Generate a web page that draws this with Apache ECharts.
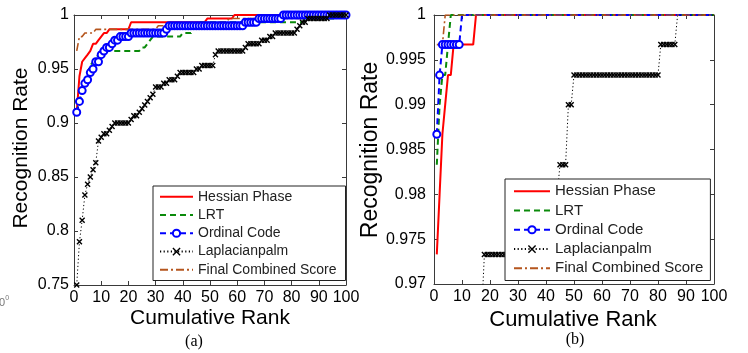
<!DOCTYPE html>
<html><head><meta charset="utf-8">
<script src="https://cdn.jsdelivr.net/npm/echarts@6/dist/echarts.min.js"></script>
<style>html,body{margin:0;padding:0;background:#fff;}#c{width:748px;height:353px;}</style>
</head><body><div id="c"></div>
<script>
// ---------- data ----------
const seriesNames = ['Hessian Phase', 'LRT', 'Ordinal Code', 'Laplacianpalm', 'Final Combined Score'];
const ranks = Array.from({length: 100}, (_, i) => i + 1);
const xTicks = {min: 0, max: 100, interval: 10};
const yTicksA = {min: 0.75, max: 1, interval: 0.05};
const yTicksB = {min: 0.97, max: 1, interval: 0.005};
const axisTitleX = 'Cumulative Rank';
const axisTitleY = 'Recognition Rate';
const captions = ['(a)', '(b)'];

// panel (a)
const hessianA = [
0.9100,0.9433,0.9567,0.9600,0.9633,0.9667,0.9733,0.9733,0.9767,0.9800,
0.9833,0.9833,0.9867,0.9867,0.9867,0.9867,0.9867,0.9867,0.9867,0.9867,
0.9933,0.9933,0.9933,0.9933,0.9933,0.9933,0.9933,0.9933,0.9933,0.9933,
0.9933,0.9933,0.9933,0.9933,0.9933,0.9933,0.9933,0.9933,0.9933,0.9933,
0.9933,0.9933,0.9933,0.9933,0.9933,0.9933,0.9933,0.9933,0.9967,0.9967,
0.9967,0.9967,0.9967,0.9967,0.9967,0.9967,0.9967,0.9967,1,1,
1,1,1,1,1,1,1,1,1,1,
1,1,1,1,1,1,1,1,1,1,
1,1,1,1,1,1,1,1,1,1,
1,1,1,1,1,1,1,1,1,1];
const lrtA = [
0.9100,0.9200,0.9333,0.9400,0.9467,0.9533,0.9567,0.9600,0.9633,0.9667,
0.9667,0.9667,0.9667,0.9667,0.9667,0.9667,0.9667,0.9667,0.9667,0.9667,
0.9667,0.9667,0.9667,0.9667,0.9700,0.9700,0.9733,0.9767,0.9800,0.9800,
0.9800,0.9800,0.9800,0.9800,0.9800,0.9800,0.9800,0.9800,0.9800,0.9833,
0.9833,0.9833,0.9833,0.9867,0.9900,0.9933,0.9933,0.9933,0.9933,0.9933,
0.9933,0.9933,0.9933,0.9933,0.9933,0.9933,0.9933,0.9933,0.9933,0.9933,
0.9933,0.9933,0.9933,0.9933,0.9933,0.9933,0.9933,0.9933,0.9933,0.9933,
0.9933,0.9933,0.9933,0.9933,0.9933,0.9933,0.9933,0.9933,0.9933,0.9933,
0.9933,0.9933,0.9933,0.9933,0.9967,0.9967,0.9967,0.9967,0.9967,0.9967,
0.9967,0.9967,0.9967,0.9967,0.9967,0.9967,1,1,1,1];
const ordinalA = [
0.9100,0.9200,0.9300,0.9367,0.9400,0.9467,0.9500,0.9567,0.9567,0.9633,
0.9667,0.9700,0.9700,0.9733,0.9767,0.9767,0.9800,0.9800,0.9800,0.9800,
0.9833,0.9833,0.9833,0.9833,0.9833,0.9833,0.9833,0.9833,0.9833,0.9833,
0.9833,0.9833,0.9833,0.9867,0.9900,0.9900,0.9900,0.9900,0.9900,0.9900,
0.9900,0.9900,0.9900,0.9900,0.9900,0.9900,0.9900,0.9900,0.9900,0.9900,
0.9900,0.9900,0.9900,0.9900,0.9900,0.9900,0.9900,0.9900,0.9900,0.9900,
0.9900,0.9900,0.9933,0.9933,0.9933,0.9933,0.9933,0.9967,0.9967,0.9967,
0.9967,0.9967,0.9967,0.9967,0.9967,0.9967,1,1,1,1,
1,1,1,1,1,1,1,1,1,1,
1,1,1,1,1,1,1,1,1,1];
const lapA = [
0.7500,0.7900,0.8100,0.8333,0.8433,0.8500,0.8567,0.8633,0.8833,0.8867,
0.8900,0.8900,0.8933,0.8967,0.9000,0.9000,0.9000,0.9000,0.9000,0.9000,
0.9033,0.9067,0.9067,0.9100,0.9133,0.9167,0.9200,0.9233,0.9267,0.9333,
0.9333,0.9333,0.9367,0.9367,0.9400,0.9400,0.9400,0.9433,0.9467,0.9467,
0.9467,0.9467,0.9467,0.9467,0.9500,0.9500,0.9533,0.9533,0.9533,0.9533,
0.9533,0.9633,0.9667,0.9667,0.9667,0.9667,0.9667,0.9667,0.9667,0.9667,
0.9667,0.9667,0.9700,0.9733,0.9733,0.9733,0.9733,0.9733,0.9767,0.9767,
0.9767,0.9800,0.9800,0.9833,0.9833,0.9833,0.9833,0.9833,0.9833,0.9833,
0.9833,0.9867,0.9900,0.9933,0.9933,0.9967,0.9967,0.9967,0.9967,0.9967,
0.9967,0.9967,0.9967,1,1,1,1,1,1,1];
const finalA = [
0.9667,0.9800,0.9800,0.9833,0.9833,0.9833,0.9833,0.9867,0.9867,0.9867,
0.9867,0.9867,0.9867,0.9867,0.9867,0.9867,0.9867,0.9867,0.9867,0.9867,
0.9867,0.9867,0.9867,0.9867,0.9867,0.9867,0.9867,0.9867,0.9867,0.9867,
0.9900,0.9900,0.9900,0.9900,0.9900,0.9900,0.9900,0.9900,0.9900,0.9900,
0.9900,0.9900,0.9900,0.9900,0.9900,0.9933,0.9933,0.9933,0.9933,0.9933,
0.9933,0.9933,0.9933,0.9933,0.9933,0.9933,0.9967,0.9967,0.9967,0.9967,
0.9967,0.9967,0.9967,0.9967,0.9967,0.9967,0.9967,0.9967,0.9967,0.9967,
0.9967,0.9967,0.9967,0.9967,0.9967,0.9967,0.9967,0.9967,0.9967,0.9967,
0.9967,0.9967,0.9967,0.9967,0.9967,1,1,1,1,1,
1,1,1,1,1,1,1,1,1,1];

// panel (b)
const hessianB = [
0.9733,0.9800,0.9867,0.9900,0.9933,0.9933,0.9967,0.9967,0.9967,0.9967,
0.9967,0.9967,0.9967,0.9967,1,1,1,1,1,1,
1,1,1,1,1,1,1,1,1,1, 1,1,1,1,1,1,1,1,1,1,
1,1,1,1,1,1,1,1,1,1, 1,1,1,1,1,1,1,1,1,1,
1,1,1,1,1,1,1,1,1,1, 1,1,1,1,1,1,1,1,1,1,
1,1,1,1,1,1,1,1,1,1, 1,1,1,1,1,1,1,1,1,1];
const lrtB = [
0.9833,0.9900,0.9933,0.9933,0.9967,1,1,1,1,1,
1,1,1,1,1,1,1,1,1,1, 1,1,1,1,1,1,1,1,1,1,
1,1,1,1,1,1,1,1,1,1, 1,1,1,1,1,1,1,1,1,1,
1,1,1,1,1,1,1,1,1,1, 1,1,1,1,1,1,1,1,1,1,
1,1,1,1,1,1,1,1,1,1, 1,1,1,1,1,1,1,1,1,1,
1,1,1,1,1,1,1,1,1,1];
const ordinalB = [
0.9867,0.9933,0.9967,0.9967,0.9967,0.9967,0.9967,0.9967,0.9967,1,
1,1,1,1,1,1,1,1,1,1, 1,1,1,1,1,1,1,1,1,1,
1,1,1,1,1,1,1,1,1,1, 1,1,1,1,1,1,1,1,1,1,
1,1,1,1,1,1,1,1,1,1, 1,1,1,1,1,1,1,1,1,1,
1,1,1,1,1,1,1,1,1,1, 1,1,1,1,1,1,1,1,1,1,
1,1,1,1,1,1,1,1,1,1];
const lapB = [
null,null,null,null,null,null,null,null,null,null,
null,null,null,null,null,null,0.9667,0.9733,0.9733,0.9733,
0.9733,0.9733,0.9733,0.9733,0.9733,0.9733,0.9733,0.9733,0.9733,0.9733,
0.9767,0.9767,0.9767,0.9767,0.9767,0.9767,0.9767,0.9767,0.9800,0.9800,
0.9800,0.9800,0.9800,0.9800,0.9833,0.9833,0.9833,0.9900,0.9900,0.9933,
0.9933,0.9933,0.9933,0.9933,0.9933,0.9933,0.9933,0.9933,0.9933,0.9933,
0.9933,0.9933,0.9933,0.9933,0.9933,0.9933,0.9933,0.9933,0.9933,0.9933,
0.9933,0.9933,0.9933,0.9933,0.9933,0.9933,0.9933,0.9933,0.9933,0.9933,
0.9967,0.9967,0.9967,0.9967,0.9967,0.9967,1,1,1,1,
1,1,1,1,1,1,1,1,1,1];
const finalB = [
0.9967,0.9967,0.9967,1,1,1,1,1,1,1,
1,1,1,1,1,1,1,1,1,1, 1,1,1,1,1,1,1,1,1,1,
1,1,1,1,1,1,1,1,1,1, 1,1,1,1,1,1,1,1,1,1,
1,1,1,1,1,1,1,1,1,1, 1,1,1,1,1,1,1,1,1,1,
1,1,1,1,1,1,1,1,1,1, 1,1,1,1,1,1,1,1,1,1,
1,1,1,1,1,1,1,1,1,1];

// ---------- styling ----------
const FONT = '"Liberation Sans", Arial, sans-serif';
const AXC = '#3a3a3a';
const XMARK = 'path://M0,0L10,10M10,0L0,10';
const styles = [
  {color: '#ff0000', lineStyle: {width: 2, type: 'solid'}, symbol: 'none'},
  {color: '#0a8a0a', lineStyle: {width: 2, type: [6, 4]}, symbol: 'none'},
  {color: '#0000ff', lineStyle: {width: 2, type: [6, 4]}, symbol: 'emptyCircle', symbolSize: 7, itemStyle: {borderWidth: 1.4}},
  {color: '#000000', lineStyle: {width: 1, type: [1.2, 2.4]}, symbol: XMARK, symbolSize: 5, itemStyle: {color: 'rgba(0,0,0,0)', borderColor: '#000', borderWidth: 1.4}},
  {color: '#b5561e', lineStyle: {width: 1.6, type: [8, 3, 2, 3]}, symbol: 'none'}
];
const dataA = [hessianA, lrtA, ordinalA, lapA, finalA];
const dataB = [hessianB, lrtB, ordinalB, lapB, finalB];

function makeSeries(arr, k, axisIdx, hideTop) {
  const st = styles[k];
  let sym = st.symbol;
  if (hideTop && sym !== 'none') {
    const base = sym;
    sym = function (val) { return (val && val[1] >= 1) ? 'none' : base; };
  }
  return {
    type: 'line', name: seriesNames[k], xAxisIndex: axisIdx, yAxisIndex: axisIdx,
    data: arr.map((v, i) => [ranks[i], v]),
    color: st.color, lineStyle: Object.assign({color: st.color}, st.lineStyle),
    symbol: sym, symbolSize: st.symbolSize || 4, showSymbol: st.symbol !== 'none',
    itemStyle: Object.assign({color: st.color, borderColor: st.color}, st.itemStyle || {}),
    animation: false, clip: true, connectNulls: false, emphasis: {disabled: true}, silent: true
  };
}
const series = [];
dataA.forEach((a, k) => series.push(makeSeries(a, k, 0, false)));
dataB.forEach((a, k) => series.push(makeSeries(a, k, 2, true)));

function xAx(grid, pos, show) {
  return {type: 'value', gridIndex: grid, position: pos, min: xTicks.min, max: xTicks.max, interval: xTicks.interval,
    axisLine: {show: true, onZero: false, lineStyle: {color: AXC, width: 1}},
    axisTick: {show: true, inside: true, length: 4, lineStyle: {color: AXC}},
    axisLabel: {show: show, color: '#000', fontFamily: FONT, fontSize: 16, margin: 5},
    splitLine: {show: false}};
}
function yAx(grid, pos, show, t, margin) {
  return {type: 'value', gridIndex: grid, position: pos, min: t.min, max: t.max, interval: t.interval,
    axisLine: {show: true, onZero: false, lineStyle: {color: AXC, width: 1}},
    axisTick: {show: true, inside: true, length: 4, lineStyle: {color: AXC}},
    axisLabel: {show: show, color: '#000', fontFamily: FONT, fontSize: 16, margin: margin,
      formatter: v => String(+v.toFixed(4))},
    splitLine: {show: false}};
}

function legendAt(left, top, pad, iw, fs, lh) {
  return {orient: 'vertical', left: left, top: top, padding: pad, itemGap: 0, itemWidth: iw, itemHeight: 9,
    backgroundColor: '#fff', borderColor: '#222', borderWidth: 1, borderRadius: 0, selectedMode: false,
    textStyle: {fontFamily: FONT, fontSize: fs, color: '#222', lineHeight: lh},
    data: seriesNames.map((n, k) => styles[k].symbol === 'none'
      ? {name: n, itemStyle: {opacity: 0}}
      : (k === 3 ? {name: n, itemStyle: {color: 'rgba(0,0,0,0)', borderColor: '#000', borderWidth: 1.4}} : {name: n}))};
}

function txt(x, y, s, font, rot, color, align) {
  return {type: 'text', x: x, y: y, rotation: rot || 0, silent: true,
    style: {text: s, font: font, fill: color || '#000', align: align || 'center', verticalAlign: 'middle',
      textAlign: align || 'center', textVerticalAlign: 'middle'}};
}

const chart = echarts.init(document.getElementById('c'), null, {renderer: 'canvas'});
chart.setOption({
  animation: false,
  backgroundColor: '#fff',
  grid: [
    {left: 74, top: 15, width: 272, height: 270},
    {left: 434, top: 15, width: 280, height: 269}
  ],
  xAxis: [xAx(0, 'bottom', true), xAx(0, 'top', false), xAx(1, 'bottom', true), xAx(1, 'top', false)],
  yAxis: [yAx(0, 'left', true, yTicksA, 5), yAx(0, 'right', false, yTicksA, 5),
          yAx(1, 'left', true, yTicksB, 8), yAx(1, 'right', false, yTicksB, 8)],
  legend: [legendAt(153, 186, [1.5, 9, 1.5, 6], 33, 14, 18.3),
           legendAt(505, 179, [2.5, 7, 2.5, 8], 36, 15, 19.3)],
  series: series,
  graphic: [
    txt(21, 148, axisTitleY, '21px ' + FONT, Math.PI / 2),
    txt(210, 318, axisTitleX, '21px ' + FONT),
    txt(371, 150, axisTitleY, '23px ' + FONT, Math.PI / 2),
    txt(573, 320, axisTitleX, '22px ' + FONT),
    txt(194, 342, captions[0], '16px "Liberation Serif", "Times New Roman", serif'),
    txt(575, 340, captions[1], '16px "Liberation Serif", "Times New Roman", serif'),
    txt(5, 303, '10', '11px ' + FONT, 0, '#777', 'right'),
    txt(5.3, 298.5, '0', '7px ' + FONT, 0, '#777', 'left')
  ]
});
</script></body></html>
